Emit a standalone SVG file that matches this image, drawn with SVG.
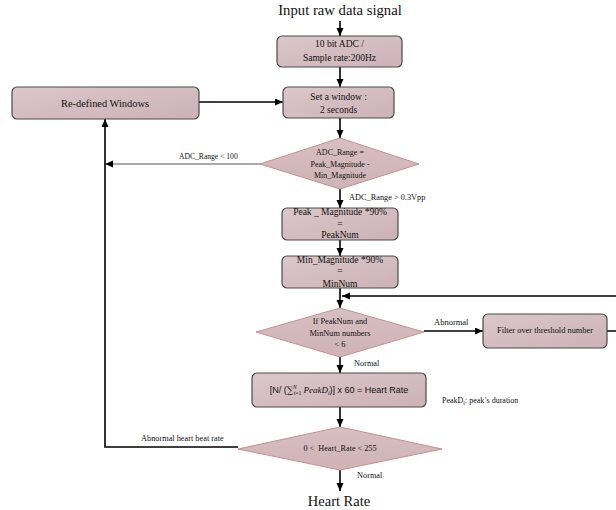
<svg xmlns="http://www.w3.org/2000/svg" width="616" height="510" viewBox="0 0 616 510">
<defs>
<linearGradient id="boxFill" x1="0" y1="0" x2="1" y2="1">
<stop offset="0" stop-color="#dbc7ca"/>
<stop offset="1" stop-color="#cdb2b6"/>
</linearGradient>
<linearGradient id="diaFill" x1="0" y1="0" x2="0" y2="1">
<stop offset="0" stop-color="#d8bfc2"/>
<stop offset="1" stop-color="#cfb3b6"/>
</linearGradient>
<marker id="arr" markerUnits="userSpaceOnUse" markerWidth="9" markerHeight="8" refX="8" refY="3.5" orient="auto">
<path d="M0,0 L8,3.5 L0,7 z" fill="#000"/>
</marker>
</defs>
<style>
.box{fill:url(#boxFill);stroke:#4a4a4a;stroke-width:1.2}
.dia{fill:url(#diaFill);stroke:#c4908f;stroke-width:1}
.t{font-family:"Liberation Serif","Times New Roman",serif;fill:#111;text-anchor:middle}
.lbl{font-family:"Liberation Serif","Times New Roman",serif;fill:#111}
.big{font-family:"Liberation Serif","Times New Roman",serif;fill:#111;text-anchor:middle;font-size:14.7px}
.c{fill:none;stroke:#000;stroke-width:1.6;marker-end:url(#arr)}
.cn{fill:none;stroke:#000;stroke-width:1.6}
.cg{fill:none;stroke:#555;stroke-width:1.1;marker-end:url(#arr)}
</style>
<rect width="616" height="510" fill="#fff"/>

<g id="connectors">
<path class="c" d="M340,21 L340,36"/>
<path class="c" d="M340,67 L340,87"/>
<path class="c" d="M199,102 L283,102"/>
<path class="c" d="M340,118 L340,138"/>
<path class="cg" d="M260,164 L105,164"/>
<path class="c" d="M340,189 L340,208"/>
<path class="c" d="M340,240 L340,256"/>
<path class="c" d="M340,288 L340,308"/>
<path class="c" d="M424,331 L483,331"/>
<path class="c" d="M607,331 L630,331 L630,296 L342,296"/>
<path class="c" d="M340,357 L340,373"/>
<path class="c" d="M340,407 L340,427"/>
<path class="c" d="M238,447 L105,447 L105,119"/>
<path class="c" d="M340,470 L340,491"/>
<text class="lbl" x="179" y="159" font-size="7.6">ADC_Range &lt; 100</text>
<text class="lbl" x="349" y="200" font-size="8.3">ADC_Range &gt; 0.3Vpp</text>
<text class="lbl" x="434" y="325" font-size="8.5">Abnormal</text>
<text class="lbl" x="354" y="366" font-size="8.3">Normal</text>
<text class="lbl" x="141" y="441" font-size="8.3">Abnormal heart beat rate</text>
<text class="lbl" x="357" y="478" font-size="8.3">Normal</text>
</g>

<g id="input">
<text class="big" x="340" y="15">Input raw data signal</text>
</g>

<g id="adc">
<rect class="box" x="277" y="36" width="125" height="31" rx="5"/>
<text class="t" x="339.5" y="47" font-size="9.5">10 bit ADC /</text>
<text class="t" x="339.5" y="61" font-size="9.5">Sample rate:200Hz</text>
</g>

<g id="setwindow">
<rect class="box" x="283" y="87" width="111" height="31" rx="5"/>
<text class="t" x="338.5" y="100" font-size="9.5">Set a window :</text>
<text class="t" x="338.5" y="113" font-size="9.5">2 seconds</text>
</g>

<g id="redefined">
<rect class="box" x="12" y="87" width="187" height="32" rx="5"/>
<text class="t" x="105" y="107" font-size="10.4">Re-defined Windows</text>
</g>

<g id="adcrange">
<polygon class="dia" points="340,138 419,164 340,189 260,164"/>
<text class="t" x="340" y="155" font-size="8">ADC_Range =</text>
<text class="t" x="340" y="167" font-size="8">Peak_Magnitude -</text>
<text class="t" x="340" y="178" font-size="8">Min_Magnitude</text>
</g>

<g id="peaknum">
<rect class="box" x="282" y="208" width="116" height="32" rx="5"/>
<text class="t" x="340" y="215" font-size="9.5">Peak _ Magnitude *90%</text>
<text class="t" x="340" y="227" font-size="9.5">=</text>
<text class="t" x="340" y="238" font-size="9.5">PeakNum</text>
</g>

<g id="minnum">
<rect class="box" x="282" y="256" width="116" height="32" rx="5"/>
<text class="t" x="340" y="263" font-size="9.5">Min_Magnitude *90%</text>
<text class="t" x="340" y="274" font-size="9.5">=</text>
<text class="t" x="340" y="287" font-size="9.5">MinNum</text>
</g>

<g id="checknum">
<polygon class="dia" points="340,308 424,332 340,357 256,332"/>
<text class="t" x="340" y="324" font-size="8.3">If PeakNum and</text>
<text class="t" x="340" y="336" font-size="8.3">MinNum numbers</text>
<text class="t" x="340" y="347" font-size="8.3">&lt; 6</text>
</g>

<g id="filter">
<rect class="box" x="483" y="314" width="124" height="34" rx="5"/>
<text class="t" x="545" y="333" font-size="8.4">Filter over threshold number</text>
</g>

<g id="formula">
<rect class="box" x="252" y="373" width="174" height="34" rx="5"/>
<text x="339" y="393" text-anchor="middle" font-family="'Liberation Sans',Arial,sans-serif" font-size="9" fill="#111">[N/ (<tspan font-family="'DejaVu Serif',serif">∑</tspan><tspan font-size="5.5" dy="-4" font-style="italic" font-family="'Liberation Serif',serif">N</tspan><tspan font-size="5.5" dy="6" dx="-3" font-family="'Liberation Serif',serif"><tspan font-style="italic">i</tspan>=1</tspan><tspan dy="-2" font-style="italic" font-family="'Liberation Serif',serif"> PeakD</tspan><tspan font-size="6" dy="2" font-style="italic" font-family="'Liberation Serif',serif">i</tspan><tspan dy="-2">)] x 60 = Heart Rate</tspan></text>
</g>

<g id="peakdnote">
<text class="lbl" x="442" y="403" font-size="8">PeakD<tspan font-size="6" dy="2">i</tspan><tspan dy="-2">: peak’s duration</tspan></text>
</g>

<g id="hrcheck">
<polygon class="dia" points="340,427 442,449 340,470 238,449"/>
<text class="t" x="340" y="451" font-size="8.2" xml:space="preserve">0 &lt;  Heart_Rate &lt; 255</text>
</g>

<g id="output">
<text class="big" x="339" y="506" font-size="14.5" style="font-size:14.5px">Heart Rate</text>
</g>
</svg>
